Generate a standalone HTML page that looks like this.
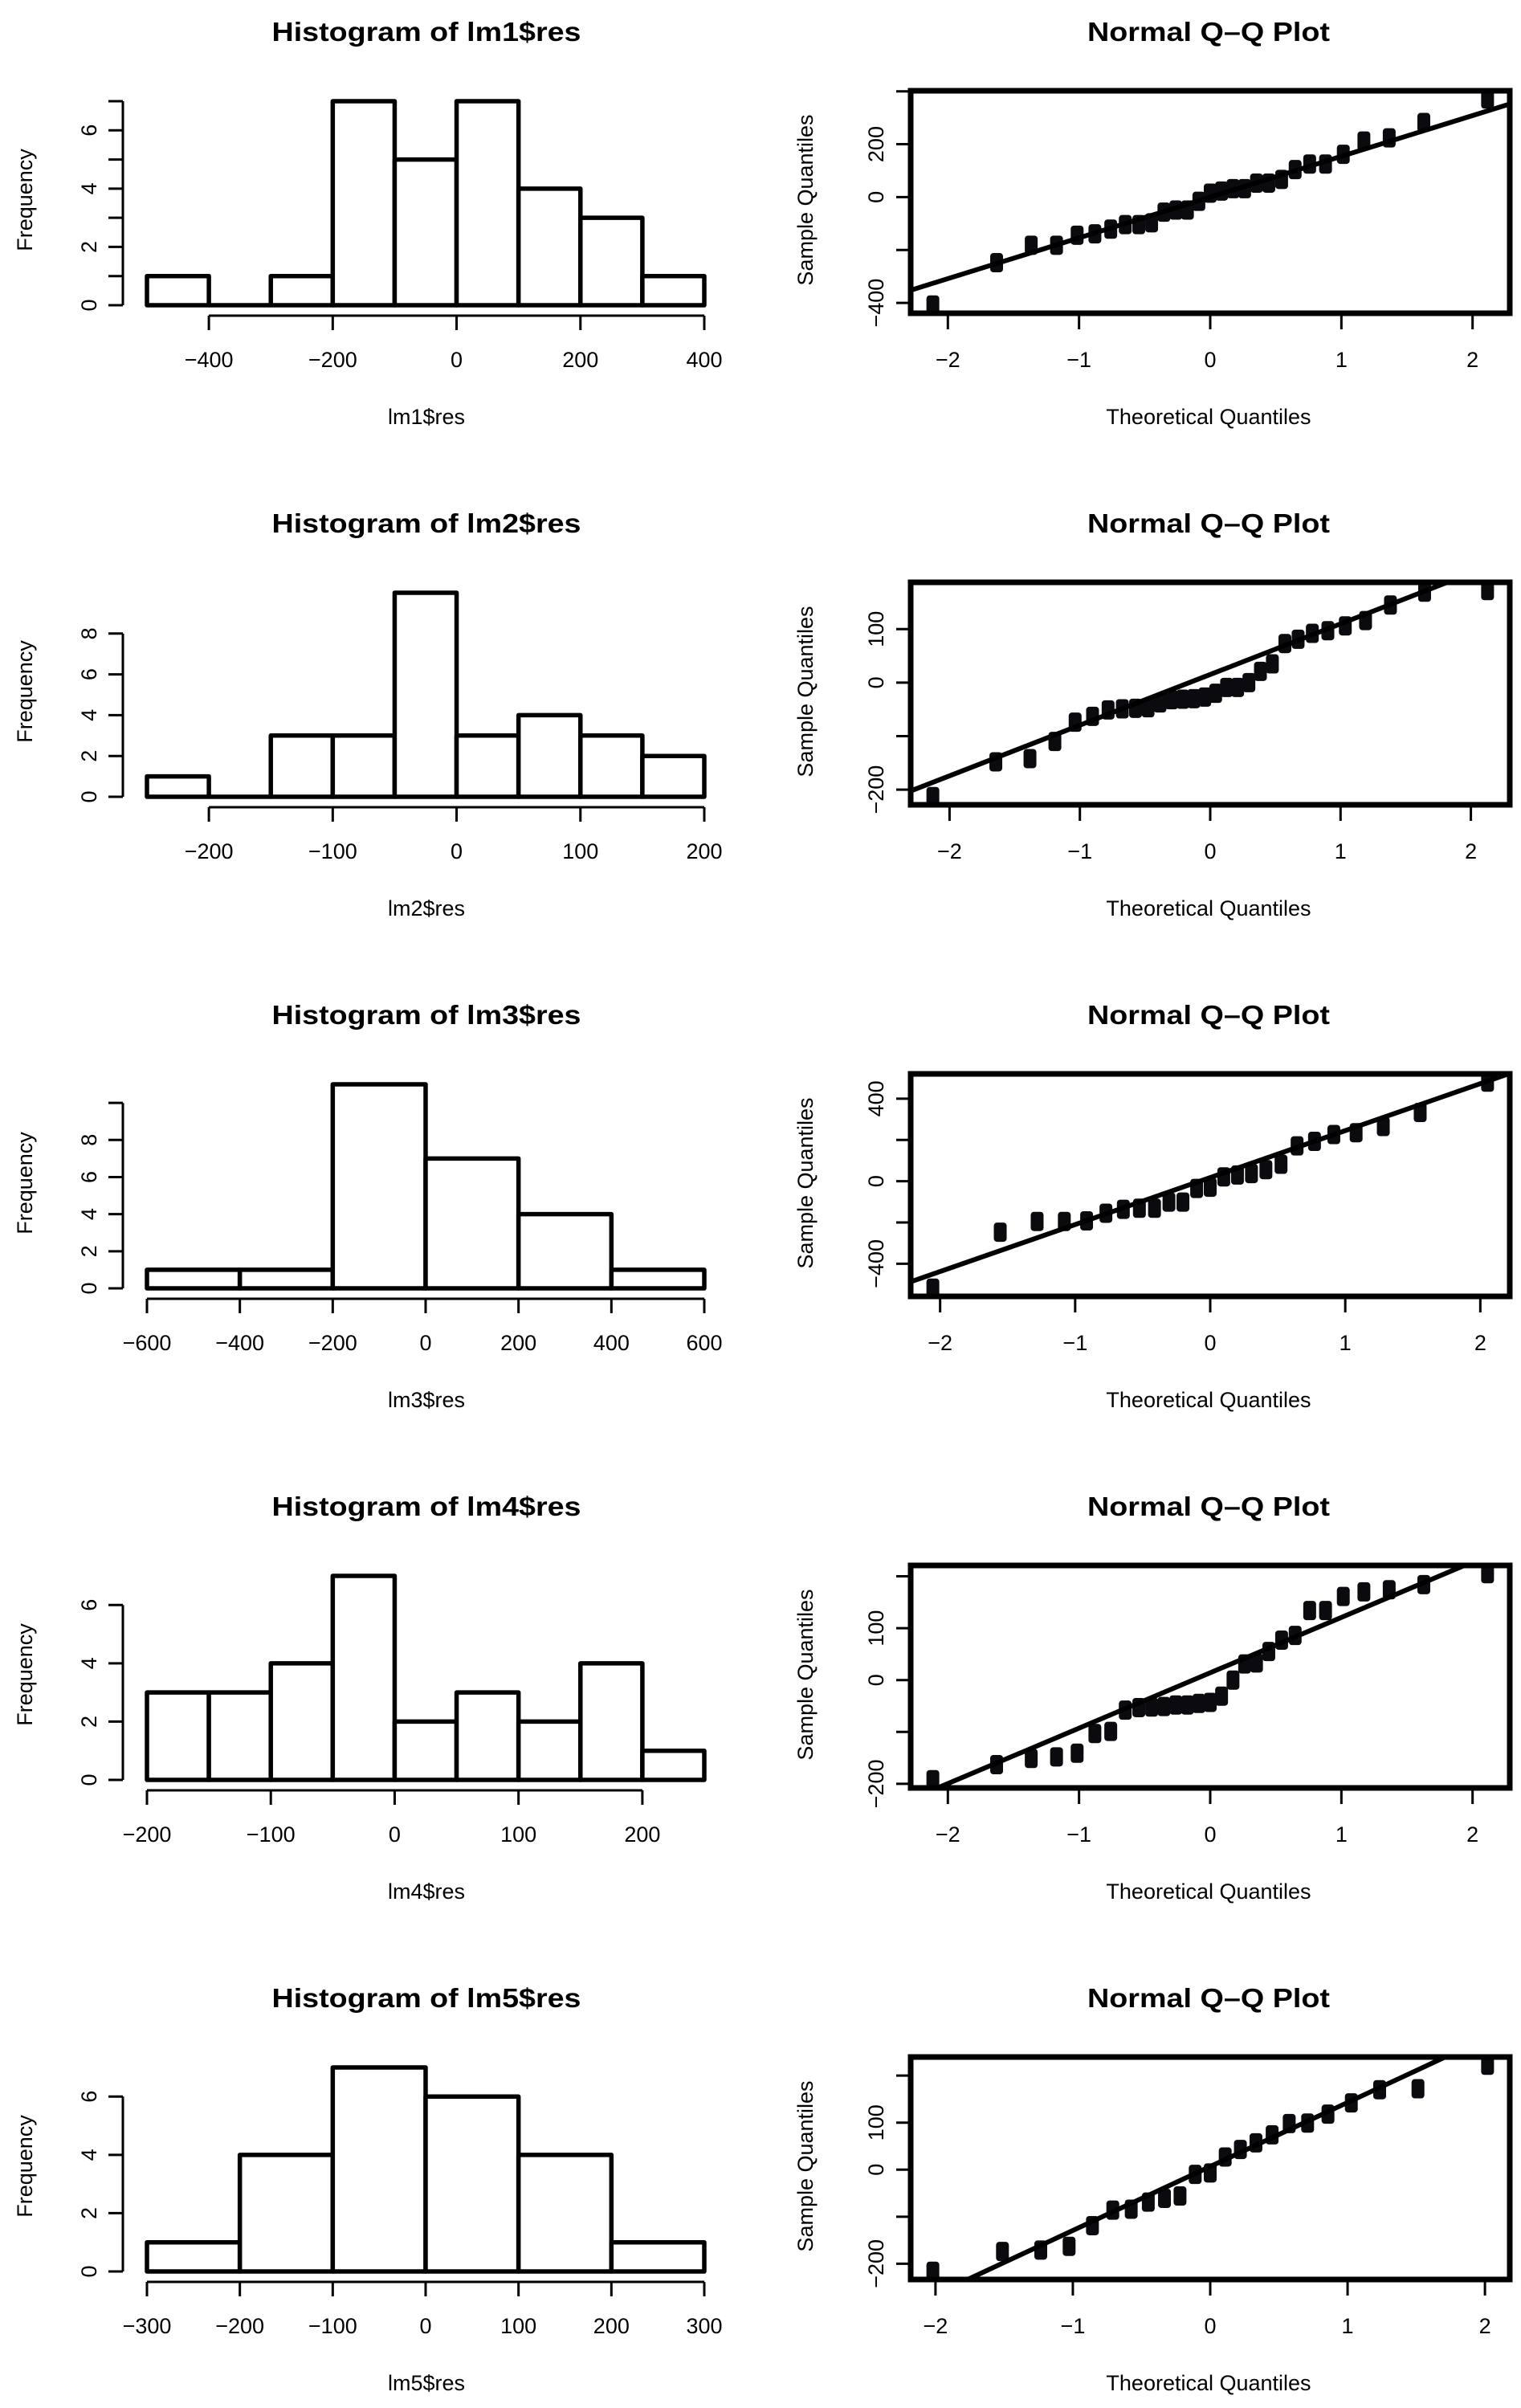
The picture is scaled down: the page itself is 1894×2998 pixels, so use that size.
<!DOCTYPE html>
<html><head><meta charset="utf-8"><style>
html,body{margin:0;padding:0;background:#fff}
svg{display:block}
text{font-family:"Liberation Sans",sans-serif;fill:#000}
</style></head>
<body>
<svg id="fig" xmlns="http://www.w3.org/2000/svg" width="1894" height="2998" viewBox="0 0 1894 2998">
<rect x="0" y="0" width="1894" height="2998" fill="#fff"/>
</svg>
<script>
// ---------- histogram data ----------
const histStarts = [-500, -250, -600, -200, -300];
const histBinWidths = [100, 50, 200, 50, 100];
const hist1Counts = [1, 0, 1, 7, 5, 7, 4, 3, 1];
const hist2Counts = [1, 0, 3, 3, 10, 3, 4, 3, 2];
const hist3Counts = [1, 1, 11, 7, 4, 1];
const hist4Counts = [3, 3, 4, 7, 2, 3, 2, 4, 1];
const hist5Counts = [1, 4, 7, 6, 4, 1];
const hist1XTicks = [-400, -200, 0, 200, 400];
const hist2XTicks = [-200, -100, 0, 100, 200];
const hist3XTicks = [-600, -400, -200, 0, 200, 400, 600];
const hist4XTicks = [-200, -100, 0, 100, 200];
const hist5XTicks = [-300, -200, -100, 0, 100, 200, 300];
const hist1YTicks = [0, 1, 2, 3, 4, 5, 6, 7];
const hist2YTicks = [0, 2, 4, 6, 8];
const hist3YTicks = [0, 2, 4, 6, 8, 10];
const hist4YTicks = [0, 2, 4, 6];
const hist5YTicks = [0, 2, 4, 6];
const hist1YLabels = [0, 2, 4, 6];
const hist2YLabels = [0, 2, 4, 6, 8];
const hist3YLabels = [0, 2, 4, 6, 8];
const hist4YLabels = [0, 2, 4, 6];
const hist5YLabels = [0, 2, 4, 6];

// ---------- Q-Q sample data (sorted residuals) ----------
const qq1Sample = [-408,-248,-182,-182,-144,-139,-121,-104,-104,-97,-57,-49,-49,-16,15,23,32,32,53,53,67,104,125,125,162,212,224,282,371];
const qq2Sample = [-213,-148,-142,-110,-74,-63,-51,-49,-48,-47,-38,-32,-31,-30,-27,-20,-9,-9,0,21,35,73,81,92,97,106,116,145,169,172];
const qq3Sample = [-518,-247,-195,-195,-192,-155,-136,-131,-131,-101,-101,-35,-29,21,30,37,56,82,171,193,226,235,265,333,480];
const qq4Sample = [-192,-163,-151,-148,-141,-103,-99,-58,-53,-52,-51,-48,-48,-45,-43,-31,0,31,33,55,77,86,134,134,161,170,174,184,205];
const qq5Sample = [-216,-174,-171,-163,-119,-86,-84,-69,-61,-56,-10,-7,27,43,57,74,98,99,118,142,170,172,222];
const qqXTicks = [-2, -1, 0, 1, 2];
const qq1YTicks = [-400, -200, 0, 200, 400];
const qq2YTicks = [-200, -100, 0, 100];
const qq3YTicks = [-400, -200, 0, 200, 400];
const qq4YTicks = [-200, -100, 0, 100, 200];
const qq5YTicks = [-200, -100, 0, 100, 200];
const qq1YLabels = [-400, 0, 200];
const qq2YLabels = [-200, 0, 100];
const qq3YLabels = [-400, 0, 400];
const qq4YLabels = [-200, 0, 100];
const qq5YLabels = [-200, 0, 100];

const NS = "http://www.w3.org/2000/svg";
const svg = document.getElementById("fig");
const ROW = 612;

function mk(tag, attrs, parent) {
  const e = document.createElementNS(NS, tag);
  for (const k in attrs) e.setAttribute(k, attrs[k]);
  (parent || svg).appendChild(e);
  return e;
}
function txt(str, x, y, size, parent, opts) {
  const t = mk("text", {x: x, y: y, "font-size": size, "text-anchor": "middle"}, parent);
  if (opts && opts.bold) t.setAttribute("font-weight", "bold");
  if (opts && opts.rot) t.setAttribute("transform", "rotate(-90 " + x + " " + y + ")");
  if (opts && opts.len) { t.setAttribute("textLength", opts.len); t.setAttribute("lengthAdjust", "spacingAndGlyphs"); }
  t.textContent = str;
  return t;
}
function fmt(v) { return v < 0 ? "\u2212" + Math.abs(v) : String(v); }

// inverse normal CDF (Acklam)
function qnorm(p) {
  const a=[-3.969683028665376e+01,2.209460984245205e+02,-2.759285104469687e+02,1.383577518672690e+02,-3.066479806614716e+01,2.506628277459239e+00];
  const b=[-5.447609879822406e+01,1.615858368580409e+02,-1.556989798598866e+02,6.680131188771972e+01,-1.328068155288572e+01];
  const c=[-7.784894002430293e-03,-3.223964580411365e-01,-2.400758277161838e+00,-2.549671010050042e+00,4.374664141464968e+00,2.938163982698783e+00];
  const d=[7.784695709041462e-03,3.224671290700398e-01,2.445134137142996e+00,3.754408661907416e+00];
  const pl=0.02425;
  if (p < pl) { const q=Math.sqrt(-2*Math.log(p)); return (((((c[0]*q+c[1])*q+c[2])*q+c[3])*q+c[4])*q+c[5])/((((d[0]*q+d[1])*q+d[2])*q+d[3])*q+1); }
  if (p > 1-pl) { const q=Math.sqrt(-2*Math.log(1-p)); return -(((((c[0]*q+c[1])*q+c[2])*q+c[3])*q+c[4])*q+c[5])/((((d[0]*q+d[1])*q+d[2])*q+d[3])*q+1); }
  const q=p-0.5, r=q*q;
  return (((((a[0]*r+a[1])*r+a[2])*r+a[3])*r+a[4])*r+a[5])*q/(((((b[0]*r+b[1])*r+b[2])*r+b[3])*r+b[4])*r+1);
}
function quantile7(arr, p) {
  const s = arr.slice().sort((x, y) => x - y);
  const h = (s.length - 1) * p, lo = Math.floor(h);
  return s[lo] + (h - lo) * ((s[Math.min(lo + 1, s.length - 1)]) - s[lo]);
}

function drawHist(i, counts, start, bw, xticks, yticks, ylabels) {
  const oy = i * ROW;
  const g = mk("g", {});
  
  
  const end = start + bw * counts.length;
  const X0 = 183, X1 = 877;
  const xs = v => X0 + (v - start) / (end - start) * (X1 - X0);
  const y0 = oy + 380;
  const maxC = Math.max.apply(null, counts);
  const ys = v => y0 - v * 254 / maxC;

  const title = txt("Histogram of lm" + (i + 1) + "$res", 531, oy + 51, 33, g, {bold: true, len: 385});
  
  

  counts.forEach((c, k) => {
    const xa0 = xs(start + k * bw), xa1 = xs(start + (k + 1) * bw);
    if (c === 0) {
      const l = mk("line", {x1: xa0, x2: xa1, y1: y0, y2: y0, stroke: "#000", "stroke-width": 5.5}, g);
      
      
      return;
    }
    const r = mk("rect", {x: xa0, y: ys(c), width: xa1 - xa0, height: y0 - ys(c), fill: "#fff", stroke: "#000", "stroke-width": 5.5, "stroke-linejoin": "round"}, g);
    
    
  });

  // x axis
  const xa = mk("g", {}, g);
  
  
  const ax = y0 + 13;
  mk("line", {x1: xs(xticks[0]), x2: xs(xticks[xticks.length - 1]), y1: ax, y2: ax, stroke: "#000", "stroke-width": 3}, xa);
  xticks.forEach(v => {
    mk("line", {x1: xs(v), x2: xs(v), y1: ax, y2: ax + 18, stroke: "#000", "stroke-width": 3}, xa);
    txt(fmt(v), xs(v), oy + 457, 27, xa);
  });
  const xl = txt("lm" + (i + 1) + "$res", 531, oy + 528, 27, g);
  
  

  // y axis
  const ya = mk("g", {}, g);
  
  
  const axx = 153;
  mk("line", {x1: axx, x2: axx, y1: ys(yticks[0]), y2: ys(yticks[yticks.length - 1]), stroke: "#000", "stroke-width": 3}, ya);
  yticks.forEach(v => mk("line", {x1: axx - 18, x2: axx, y1: ys(v), y2: ys(v), stroke: "#000", "stroke-width": 3}, ya));
  ylabels.forEach(v => txt(fmt(v), 120, ys(v), 27, ya, {rot: true}));
  const yl = txt("Frequency", 40, oy + 249, 27, g, {rot: true});
  
  
}

function drawQQ(i, sample, yticks, ylabels) {
  const oy = i * ROW;
  const g = mk("g", {});
  
  
  const n = sample.length;
  const a = n <= 10 ? 3 / 8 : 0.5;
  const theo = sample.map((_, k) => qnorm((k + 1 - a) / (n + 1 - 2 * a)));
  const tmin = theo[0], tmax = theo[n - 1];
  const smin = Math.min.apply(null, sample), smax = Math.max.apply(null, sample);
  const xlo = tmin - 0.04 * (tmax - tmin), xhi = tmax + 0.04 * (tmax - tmin);
  const ylo = smin - 0.04 * (smax - smin), yhi = smax + 0.04 * (smax - smin);
  const BX0 = 1134, BX1 = 1880, BY0 = oy + 113, BY1 = oy + 390;
  const xs = v => BX0 + (v - xlo) / (xhi - xlo) * (BX1 - BX0);
  const ys = v => BY1 - (v - ylo) / (yhi - ylo) * (BY1 - BY0);

  const title = txt("Normal Q\u2013Q Plot", 1505, oy + 51, 33, g, {bold: true, len: 302});
  
  

  const cp = mk("clipPath", {id: "clip" + i}, g);
  mk("rect", {x: BX0, y: BY0, width: BX1 - BX0, height: BY1 - BY0}, cp);

  const pts = mk("g", {}, g);
  
  
  sample.forEach((s, k) => {
    const r = mk("rect", {x: xs(theo[k]) - 8, y: ys(s) - 12, width: 16, height: 24, rx: 4, fill: "#0a0a0f"}, pts);
    
    
  });

  const q1 = quantile7(sample, 0.25), q3 = quantile7(sample, 0.75);
  const z1 = qnorm(0.25), z3 = qnorm(0.75);
  const slope = (q3 - q1) / (z3 - z1), icpt = q1 - slope * z1;
  const ln = mk("line", {x1: xs(xlo - 1), y1: ys(icpt + slope * (xlo - 1)), x2: xs(xhi + 1), y2: ys(icpt + slope * (xhi + 1)), stroke: "#000", "stroke-width": 6, "clip-path": "url(#clip" + i + ")"}, g);
  
  

  const box = mk("rect", {x: BX0, y: BY0, width: BX1 - BX0, height: BY1 - BY0, fill: "none", stroke: "#000", "stroke-width": 7}, g);
  
  

  const xa = mk("g", {}, g);
  
  
  qqXTicks.forEach(v => {
    mk("line", {x1: xs(v), x2: xs(v), y1: BY1, y2: BY1 + 20, stroke: "#000", "stroke-width": 3}, xa);
    txt(fmt(v), xs(v), oy + 457, 27, xa);
  });
  const xl = txt("Theoretical Quantiles", 1505, oy + 528, 27, g);
  
  

  const ya = mk("g", {}, g);
  
  
  yticks.forEach(v => mk("line", {x1: BX0 - 18, x2: BX0, y1: ys(v), y2: ys(v), stroke: "#000", "stroke-width": 3}, ya));
  ylabels.forEach(v => txt(fmt(v), 1100, ys(v), 27, ya, {rot: true}));
  const yl = txt("Sample Quantiles", 1012, oy + 249, 27, g, {rot: true});
  
  
}

drawHist(0, hist1Counts, histStarts[0], histBinWidths[0], hist1XTicks, hist1YTicks, hist1YLabels);
drawHist(1, hist2Counts, histStarts[1], histBinWidths[1], hist2XTicks, hist2YTicks, hist2YLabels);
drawHist(2, hist3Counts, histStarts[2], histBinWidths[2], hist3XTicks, hist3YTicks, hist3YLabels);
drawHist(3, hist4Counts, histStarts[3], histBinWidths[3], hist4XTicks, hist4YTicks, hist4YLabels);
drawHist(4, hist5Counts, histStarts[4], histBinWidths[4], hist5XTicks, hist5YTicks, hist5YLabels);
drawQQ(0, qq1Sample, qq1YTicks, qq1YLabels);
drawQQ(1, qq2Sample, qq2YTicks, qq2YLabels);
drawQQ(2, qq3Sample, qq3YTicks, qq3YLabels);
drawQQ(3, qq4Sample, qq4YTicks, qq4YLabels);
drawQQ(4, qq5Sample, qq5YTicks, qq5YLabels);
</script>
</body></html>
